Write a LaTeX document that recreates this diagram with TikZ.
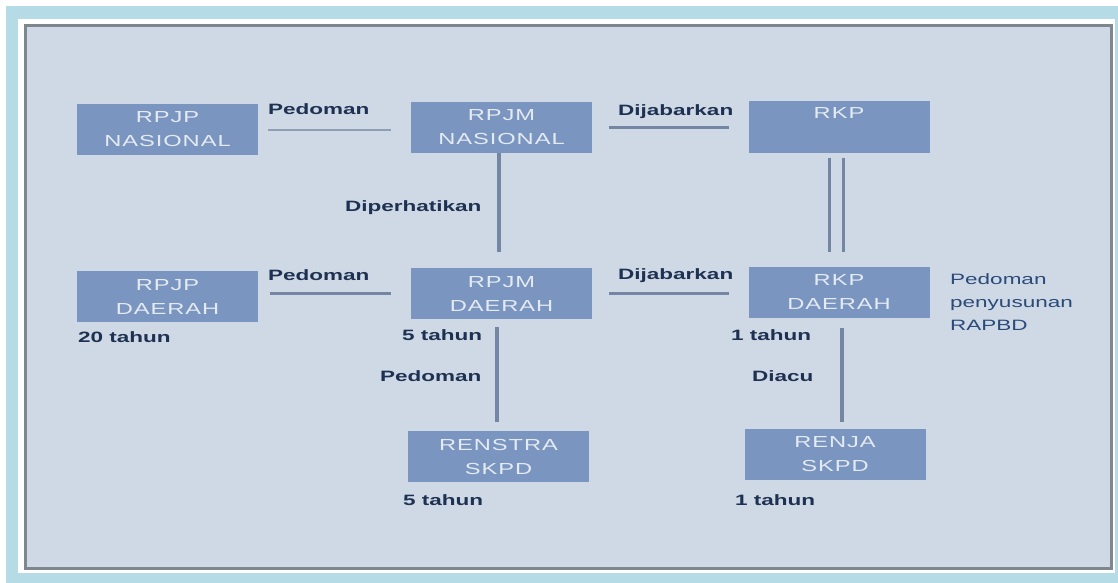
\documentclass[tikz,border=0pt]{standalone}
\usepackage{fontspec}
\setmainfont{Liberation Sans}
\newfontfamily\lblfont[FakeStretch=1.5]{Liberation Sans}
\newfontfamily\boxfont[FakeStretch=1.48,LetterSpace=6]{Liberation Sans}
\definecolor{frameblue}{HTML}{B5DBE6}
\definecolor{panel}{HTML}{CFD9E5}
\definecolor{panelborder}{HTML}{80868E}
\definecolor{boxfill}{HTML}{7A95BF}
\definecolor{boxtext}{HTML}{E4EAF2}
\definecolor{conncol}{HTML}{7486A3}
\definecolor{connlight}{HTML}{909EB5}
\definecolor{lbltext}{HTML}{1E3152}
\definecolor{notetext}{HTML}{2A4A7A}
\begin{document}
\begin{tikzpicture}[x=1pt,y=-1pt,
  box/.style={fill=boxfill, text=boxtext, minimum width=181pt, minimum height=51pt,
    inner sep=0pt, align=center, font=\boxfont\fontsize{16}{24}\selectfont},
  lbl/.style={text=lbltext, inner sep=0pt, anchor=base west,
    font=\lblfont\bfseries\fontsize{15}{23}\selectfont},
  note/.style={text=notetext, inner sep=0pt, anchor=base west, align=left,
    font=\lblfont\fontsize{15}{23}\selectfont},
  conn/.style={draw=conncol, line width=3pt},
  vconn/.style={draw=conncol, line width=4pt}]
\useasboundingbox (0,0) rectangle (1118,583);
\fill[white] (0,0) rectangle (1118,583);
\fill[frameblue] (6,6) rectangle (1118,583);
\fill[white] (18,19) rectangle (1115,573);
\filldraw[fill=panel, draw=panelborder, line width=3pt] (25.5,25.5) rectangle (1111.5,568.5);

% boxes
\node[box] (rpjpn) at (167.5,129.5) {RPJP\\NASIONAL};
\node[box] (rpjmn) at (501.5,127.5) {RPJM\\NASIONAL};
\node[box] (rkp) at (839,127) {RKP\\[4pt]\mbox{}};
\node[box] (rpjpd) at (167.5,296.5) {RPJP\\DAERAH};
\node[box] (rpjmd) at (501.5,293.5) {RPJM\\DAERAH};
\node[box] (rkpd) at (839,292) {RKP\\DAERAH};
\node[box] (renstra) at (498.5,456.5) {RENSTRA\\SKPD};
\node[box] (renja) at (835,454) {RENJA\\SKPD};

% connectors
\draw[draw=connlight, line width=2pt, shorten <=10pt, shorten >=20pt]
  (rpjpn.east) -- (rpjpn.east -| rpjmn.west);
\draw[conn, line width=2.5pt, shorten <=17pt, shorten >=19pt]
  (rpjmn.east) -- (rpjmn.east -| rkp.west);
\draw[conn, shorten <=12pt, shorten >=20pt]
  (rpjmd.west -| rpjpd.east) -- (rpjmd.west);
\draw[conn, shorten <=17pt, shorten >=19pt]
  (rpjmd.east) -- (rpjmd.east -| rkpd.west);
\draw[vconn, shorten >=16pt]
  ([xshift=-2.5pt]rpjmn.south) -- ([xshift=-2.5pt]rpjmn.south |- rpjmd.north);
\draw[conn, shorten <=5pt, shorten >=14pt]
  ([xshift=-10pt]rkp.south) -- ([xshift=-10pt]rkp.south |- rkpd.north);
\draw[conn, shorten <=5pt, shorten >=14pt]
  ([xshift=4pt]rkp.south) -- ([xshift=4pt]rkp.south |- rkpd.north);
\draw[vconn, shorten <=8pt, shorten >=9pt]
  ([xshift=-4.5pt]rpjmd.south) -- ([xshift=-4.5pt]rpjmd.south |- renstra.north);
\draw[vconn, shorten <=10pt, shorten >=6pt]
  ([xshift=3pt]rkpd.south) -- ([xshift=3pt]rkpd.south |- renja.north);

% labels
\node[lbl] (l1) at (268,115) {Pedoman};
\node[lbl] (l2) at (618,116) {Dijabarkan};
\node[lbl] (l3) at (345,211) {Diperhatikan};
\node[lbl] (l4) at (268,280) {Pedoman};
\node[lbl] (l5) at (618,279) {Dijabarkan};
\node[note] (l6) at (950,330) {Pedoman\\penyusunan\\RAPBD};
\node[lbl] (l7) at (78,342) {20 tahun};
\node[lbl] (l8) at (402,340) {5 tahun};
\node[lbl] (l9) at (731,340) {1 tahun};
\node[lbl] (l10) at (380,381) {Pedoman};
\node[lbl] (l11) at (752,381) {Diacu};
\node[lbl] (l12) at (403,505) {5 tahun};
\node[lbl] (l13) at (735,505) {1 tahun};
\end{tikzpicture}
\end{document}
